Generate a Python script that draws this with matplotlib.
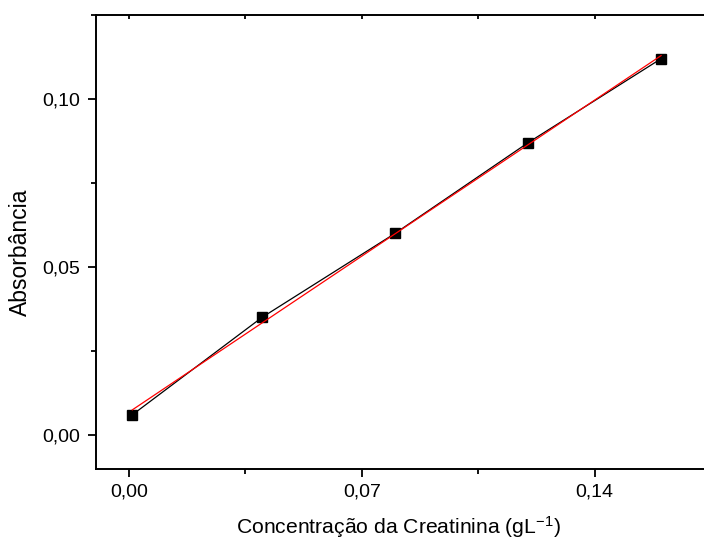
import numpy as np
import matplotlib
matplotlib.use("Agg")
import matplotlib.pyplot as plt
from matplotlib.ticker import MultipleLocator, FuncFormatter, FixedLocator
from matplotlib import lines as mlines

plt.rcParams['font.family'] = ['Liberation Sans', 'DejaVu Sans']
plt.rcParams['mathtext.fontset'] = 'custom'
plt.rcParams['mathtext.rm'] = 'Liberation Sans'
plt.rcParams['mathtext.it'] = 'Liberation Sans'

# Calibration data: creatinine concentration (g/L) vs absorbance
concentracao = [0.001, 0.040, 0.080, 0.120, 0.160]
absorbancia = [0.006, 0.035, 0.060, 0.087, 0.112]

x_ticks = [0.00, 0.07, 0.14]
y_ticks = [0.00, 0.05, 0.10]

W, H = 704, 547
fig = plt.figure(figsize=(W / 100, H / 100), dpi=100)

left_px, right_px, top_px, bottom_px = 95.7, 712.0, 14.7, 468.7
ax = fig.add_axes([left_px / W, (H - bottom_px) / H,
                   (right_px - left_px) / W, (bottom_px - top_px) / H])

# linear regression of the calibration points
coef = np.polyfit(concentracao, absorbancia, 1)
xfit = np.array([concentracao[0], concentracao[-1]])
yfit = np.polyval(coef, xfit)

ax.plot(concentracao, absorbancia, color='black', lw=0.9, marker='s',
        markersize=7, markerfacecolor='black', markeredgecolor='black', zorder=3)
ax.plot(xfit, yfit, color='#ff0000', lw=0.9, zorder=4)

px_per_unit = (594.6 - 129.0) / 0.14
ax.set_xlim(-0.01, -0.01 + (right_px - left_px) / px_per_unit)
ax.set_ylim(-0.01003, 0.1251)

ax.xaxis.set_major_locator(FixedLocator(x_ticks))
ax.xaxis.set_minor_locator(MultipleLocator(0.035))
ax.yaxis.set_major_locator(FixedLocator(y_ticks))
ax.yaxis.set_minor_locator(MultipleLocator(0.025))

fmt = FuncFormatter(lambda v, p: f"{v:.2f}".replace('.', ','))
ax.xaxis.set_major_formatter(fmt)
ax.yaxis.set_major_formatter(fmt)

for s in ax.spines.values():
    s.set_linewidth(1.4)
ax.spines['right'].set_visible(False)

ax.tick_params(axis='both', which='major', direction='out', length=6, width=1.3,
               labelsize=14, pad=5)
ax.tick_params(axis='both', which='minor', direction='out', length=3.8, width=1.3)
ax.tick_params(axis='x', which='both', top=True, bottom=True)
ax.tick_params(axis='y', which='both', right=False)
# top ticks point inward
for t in ax.xaxis.get_major_ticks() + ax.xaxis.get_minor_ticks():
    t.tick2line.set_marker(mlines.TICKDOWN)
    t.tick2line.set_markersize(3)

ax.set_xlabel(r'Concentração da Creatinina (gL$^{\mathregular{-1}}$)', fontsize=15.2)
ax.set_ylabel('Absorbância', fontsize=16.5)

# label positions in figure pixels
ax.xaxis.set_label_coords(398 / W, (H - 527) / H, transform=fig.transFigure)
ax.xaxis.label.set_va('center')
ax.yaxis.set_label_coords(20 / W, (H - 252) / H, transform=fig.transFigure)
ax.yaxis.label.set_va('center')

fig.savefig('out.png', dpi=100)
